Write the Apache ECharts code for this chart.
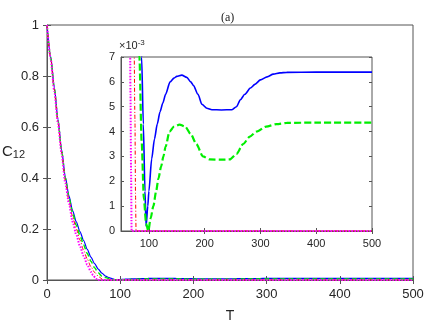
<!DOCTYPE html>
<html>
<head>
<meta charset="utf-8">
<script src="https://cdn.jsdelivr.net/npm/echarts@6/dist/echarts.min.js"></script>
<style>
  html, body { margin: 0; padding: 0; background: #fff; }
  #chart { width: 436px; height: 325px; }
</style>
</head>
<body>
<div id="chart"></div>
<script>
// values (C12 versus T)
const tBlue = [0, 5, 10, 15, 20, 25, 30, 35, 40, 45, 50, 55, 60, 65, 70, 75, 80, 85, 87, 90,
  93, 95, 98, 100, 105, 110, 115, 120, 125, 130, 138, 145, 150, 159, 168, 175, 180, 188, 195, 204,
  213, 230, 249, 257, 264, 272, 282, 290, 300, 312, 323, 335, 347, 400, 500];
const cBlue = [1, 0.877, 0.755, 0.63, 0.51, 0.405, 0.33, 0.272, 0.228, 0.19, 0.155, 0.12, 0.09, 0.064, 0.043, 0.027, 0.015, 0.0092, 0.007, 0.0043,
  0.0016, 0.0002, 0.001, 0.0016, 0.0029, 0.0037, 0.0043, 0.0048, 0.00515, 0.0055, 0.006, 0.00615, 0.00622, 0.00627, 0.00618, 0.006, 0.00585, 0.0055, 0.0051, 0.00494,
  0.00488, 0.00487, 0.00488, 0.005, 0.00528, 0.0055, 0.00575, 0.0059, 0.00608, 0.0062, 0.00631, 0.00636, 0.00638, 0.00639, 0.00639];

const tGreen = [0, 5, 10, 15, 20, 25, 30, 35, 40, 45, 50, 55, 60, 65, 70, 75, 80, 83, 87, 91,
  95, 99, 103, 108, 113, 117, 122, 126, 130, 137, 145, 155, 165, 175, 185, 197, 209, 230, 245, 257,
  269, 281, 293, 310, 329, 347, 400, 500];
const cGreen = [1, 0.872, 0.75, 0.625, 0.505, 0.4, 0.322, 0.262, 0.215, 0.175, 0.138, 0.104, 0.074, 0.048, 0.028, 0.015, 0.0095, 0.007, 0.0036, 0.0013,
  0.0003, 0, 0.0005, 0.001, 0.0016, 0.0021, 0.0026, 0.003, 0.0034, 0.004, 0.0042, 0.00428, 0.0042, 0.0039, 0.0035, 0.003, 0.00288, 0.00287, 0.00288, 0.0031,
  0.0035, 0.0038, 0.004, 0.0042, 0.0043, 0.00435, 0.00436, 0.00436];

const tRed = [0, 5, 10, 15, 20, 25, 30, 35, 40, 45, 50, 55, 60, 65, 70, 73, 75, 76, 77, 100, 300, 500];
const cRed = [1, 0.87, 0.745, 0.62, 0.5, 0.39, 0.31, 0.248, 0.2, 0.157, 0.117, 0.082, 0.052, 0.03, 0.015, 0.0085, 0.0045, 0.0015, 0, 0, 0, 0];

const tMag = [0, 5, 10, 15, 20, 25, 30, 35, 40, 45, 50, 55, 60, 63, 66, 67, 68, 69, 100, 300, 500];
const cMag = [1, 0.868, 0.74, 0.615, 0.495, 0.38, 0.3, 0.228, 0.178, 0.133, 0.094, 0.06, 0.032, 0.019, 0.009, 0.0055, 0.0025, 0, 0, 0, 0];

const mainXTicks = [0, 100, 200, 300, 400, 500];
const insetXTicks = [100, 200, 300, 400, 500];

const zip = (xs, ys) => xs.map((x, i) => [x, ys[i]]);

const chart = echarts.init(document.getElementById("chart"), null, { renderer: "canvas" });

const axisColor = "#555";
const textColor = "#262626";
const font = "Liberation Sans, Arial, sans-serif";

function lineSeries(name, data, color, lineType, width, gridIdx) {
  return {
    name: name,
    type: "line",
    xAxisIndex: gridIdx === 0 ? 0 : 2,
    yAxisIndex: gridIdx === 0 ? 0 : 2,
    data: data,
    showSymbol: false,
    smooth: 0.25,
    smoothMonotone: "x",
    clip: true,
    silent: true,
    z: gridIdx === 0 ? 2 : 12,
    lineStyle: { color: color, type: lineType, width: width },
  };
}

// tick-only axes for the box on top and right (matlab style)
function boxX(gridIndex, min, max, interval, ticks) {
  return {
    gridIndex: gridIndex, type: "value", position: "top", min: min, max: max, interval: interval,
    axisLine: { show: false }, axisLabel: { show: false }, splitLine: { show: false },
    axisTick: { inside: true, length: gridIndex === 0 ? 4 : 3, lineStyle: { color: axisColor }, customValues: ticks },
  };
}
function boxY(gridIndex, max, interval) {
  return {
    gridIndex: gridIndex, type: "value", position: "right", min: 0, max: max, interval: interval,
    axisLine: { show: false }, axisLabel: { show: false }, splitLine: { show: false },
    axisTick: { inside: true, length: gridIndex === 0 ? 4 : 3, lineStyle: { color: axisColor } },
  };
}

const option = {
  animation: false,
  backgroundColor: "#fff",
  title: {
    text: "(a)",
    left: 216,
    top: 7,
    textStyle: { fontFamily: "Liberation Serif, serif", fontSize: 12, fontWeight: "normal", color: "#222" },
  },
  grid: [
    { left: 47, top: 25, width: 366, height: 255, outerBoundsMode: "none", containLabel: false,
      show: true, borderColor: axisColor, borderWidth: 1, backgroundColor: "#fff", z: 0 },
    { left: 121, top: 57, width: 251, height: 174, outerBoundsMode: "none", containLabel: false,
      show: true, borderColor: axisColor, borderWidth: 1, backgroundColor: "#fff", z: 10 },
  ],
  xAxis: [
    {
      gridIndex: 0, type: "value", min: 0, max: 500, interval: 100,
      name: "T", nameLocation: "middle", nameGap: 29, nameMoveOverlap: false,
      nameTextStyle: { fontFamily: font, fontSize: 14, color: textColor },
      axisLine: { lineStyle: { color: axisColor } },
      axisTick: { inside: true, length: 4, lineStyle: { color: axisColor } },
      axisLabel: { margin: 8, fontFamily: font, fontSize: 13, color: textColor },
      splitLine: { show: false },
    },
    boxX(0, 0, 500, 100, mainXTicks),
    {
      gridIndex: 1, type: "value", min: 50, max: 500, z: 11,
      axisLine: { lineStyle: { color: axisColor } },
      axisTick: { inside: true, length: 3, lineStyle: { color: axisColor }, customValues: insetXTicks },
      axisLabel: { margin: 7, fontFamily: font, fontSize: 11, color: textColor, customValues: insetXTicks },
      splitLine: { show: false },
    },
    Object.assign(boxX(1, 50, 500, null, insetXTicks), { z: 11 }),
  ],
  yAxis: [
    {
      gridIndex: 0, type: "value", min: 0, max: 1, interval: 0.2,
      name: "{c|C}{s|12}", nameLocation: "middle", nameGap: 22, nameRotate: 0, nameMoveOverlap: false,
      nameTextStyle: {
        align: "right",
        rich: {
          c: { fontFamily: font, fontSize: 15, color: textColor, verticalAlign: "top", lineHeight: 16 },
          s: { fontFamily: font, fontSize: 11, color: textColor, verticalAlign: "bottom", lineHeight: 11, padding: [15, 0, 0, 0] },
        },
      },
      axisLine: { lineStyle: { color: axisColor } },
      axisTick: { inside: true, length: 4, lineStyle: { color: axisColor } },
      axisLabel: { margin: 8, fontFamily: font, fontSize: 13, color: textColor },
      splitLine: { show: false },
    },
    boxY(0, 1, 0.2),
    {
      gridIndex: 1, type: "value", min: 0, max: 0.007, interval: 0.001, z: 11,
      name: "×10{sup|-3}", nameLocation: "end", nameGap: 3,
      nameTextStyle: {
        align: "left", fontFamily: font, fontSize: 11, color: textColor, padding: [0, 0, 0, -2],
        rich: { sup: { fontFamily: font, fontSize: 8, color: textColor, verticalAlign: "top", padding: [0, 0, 7, 0] } },
      },
      axisLine: { lineStyle: { color: axisColor } },
      axisTick: { inside: true, length: 3, lineStyle: { color: axisColor } },
      axisLabel: { margin: 6, fontFamily: font, fontSize: 11, color: textColor, formatter: (v) => String(Math.round(v * 1000)) },
      splitLine: { show: false },
    },
    Object.assign(boxY(1, 0.007, 0.001), { z: 11 }),
  ],
  series: [
    lineSeries("blue", zip(tBlue, cBlue), "#0000ff", "solid", 1.2, 0),
    lineSeries("green", zip(tGreen, cGreen), "#00ee00", [5, 3], 1.5, 0),
    lineSeries("red", zip(tRed, cRed), "#ff0000", [4, 2, 1, 2], 1, 0),
    lineSeries("magenta", zip(tMag, cMag), "#ff00ff", [1.5, 1.5], 2, 0),
    lineSeries("blue", zip(tBlue, cBlue), "#0000ff", "solid", 1.6, 1),
    lineSeries("green", zip(tGreen, cGreen), "#00ee00", [7, 3], 2.2, 1),
    lineSeries("red", zip(tRed, cRed), "#ff0000", [4, 2, 1, 2], 1, 1),
    lineSeries("magenta", zip(tMag, cMag), "#ff00ff", [1.5, 1.5], 2, 1),
  ],
};

chart.setOption(option);
window.addEventListener("resize", () => {
  chart.resize();
});
</script>
</body>
</html>
